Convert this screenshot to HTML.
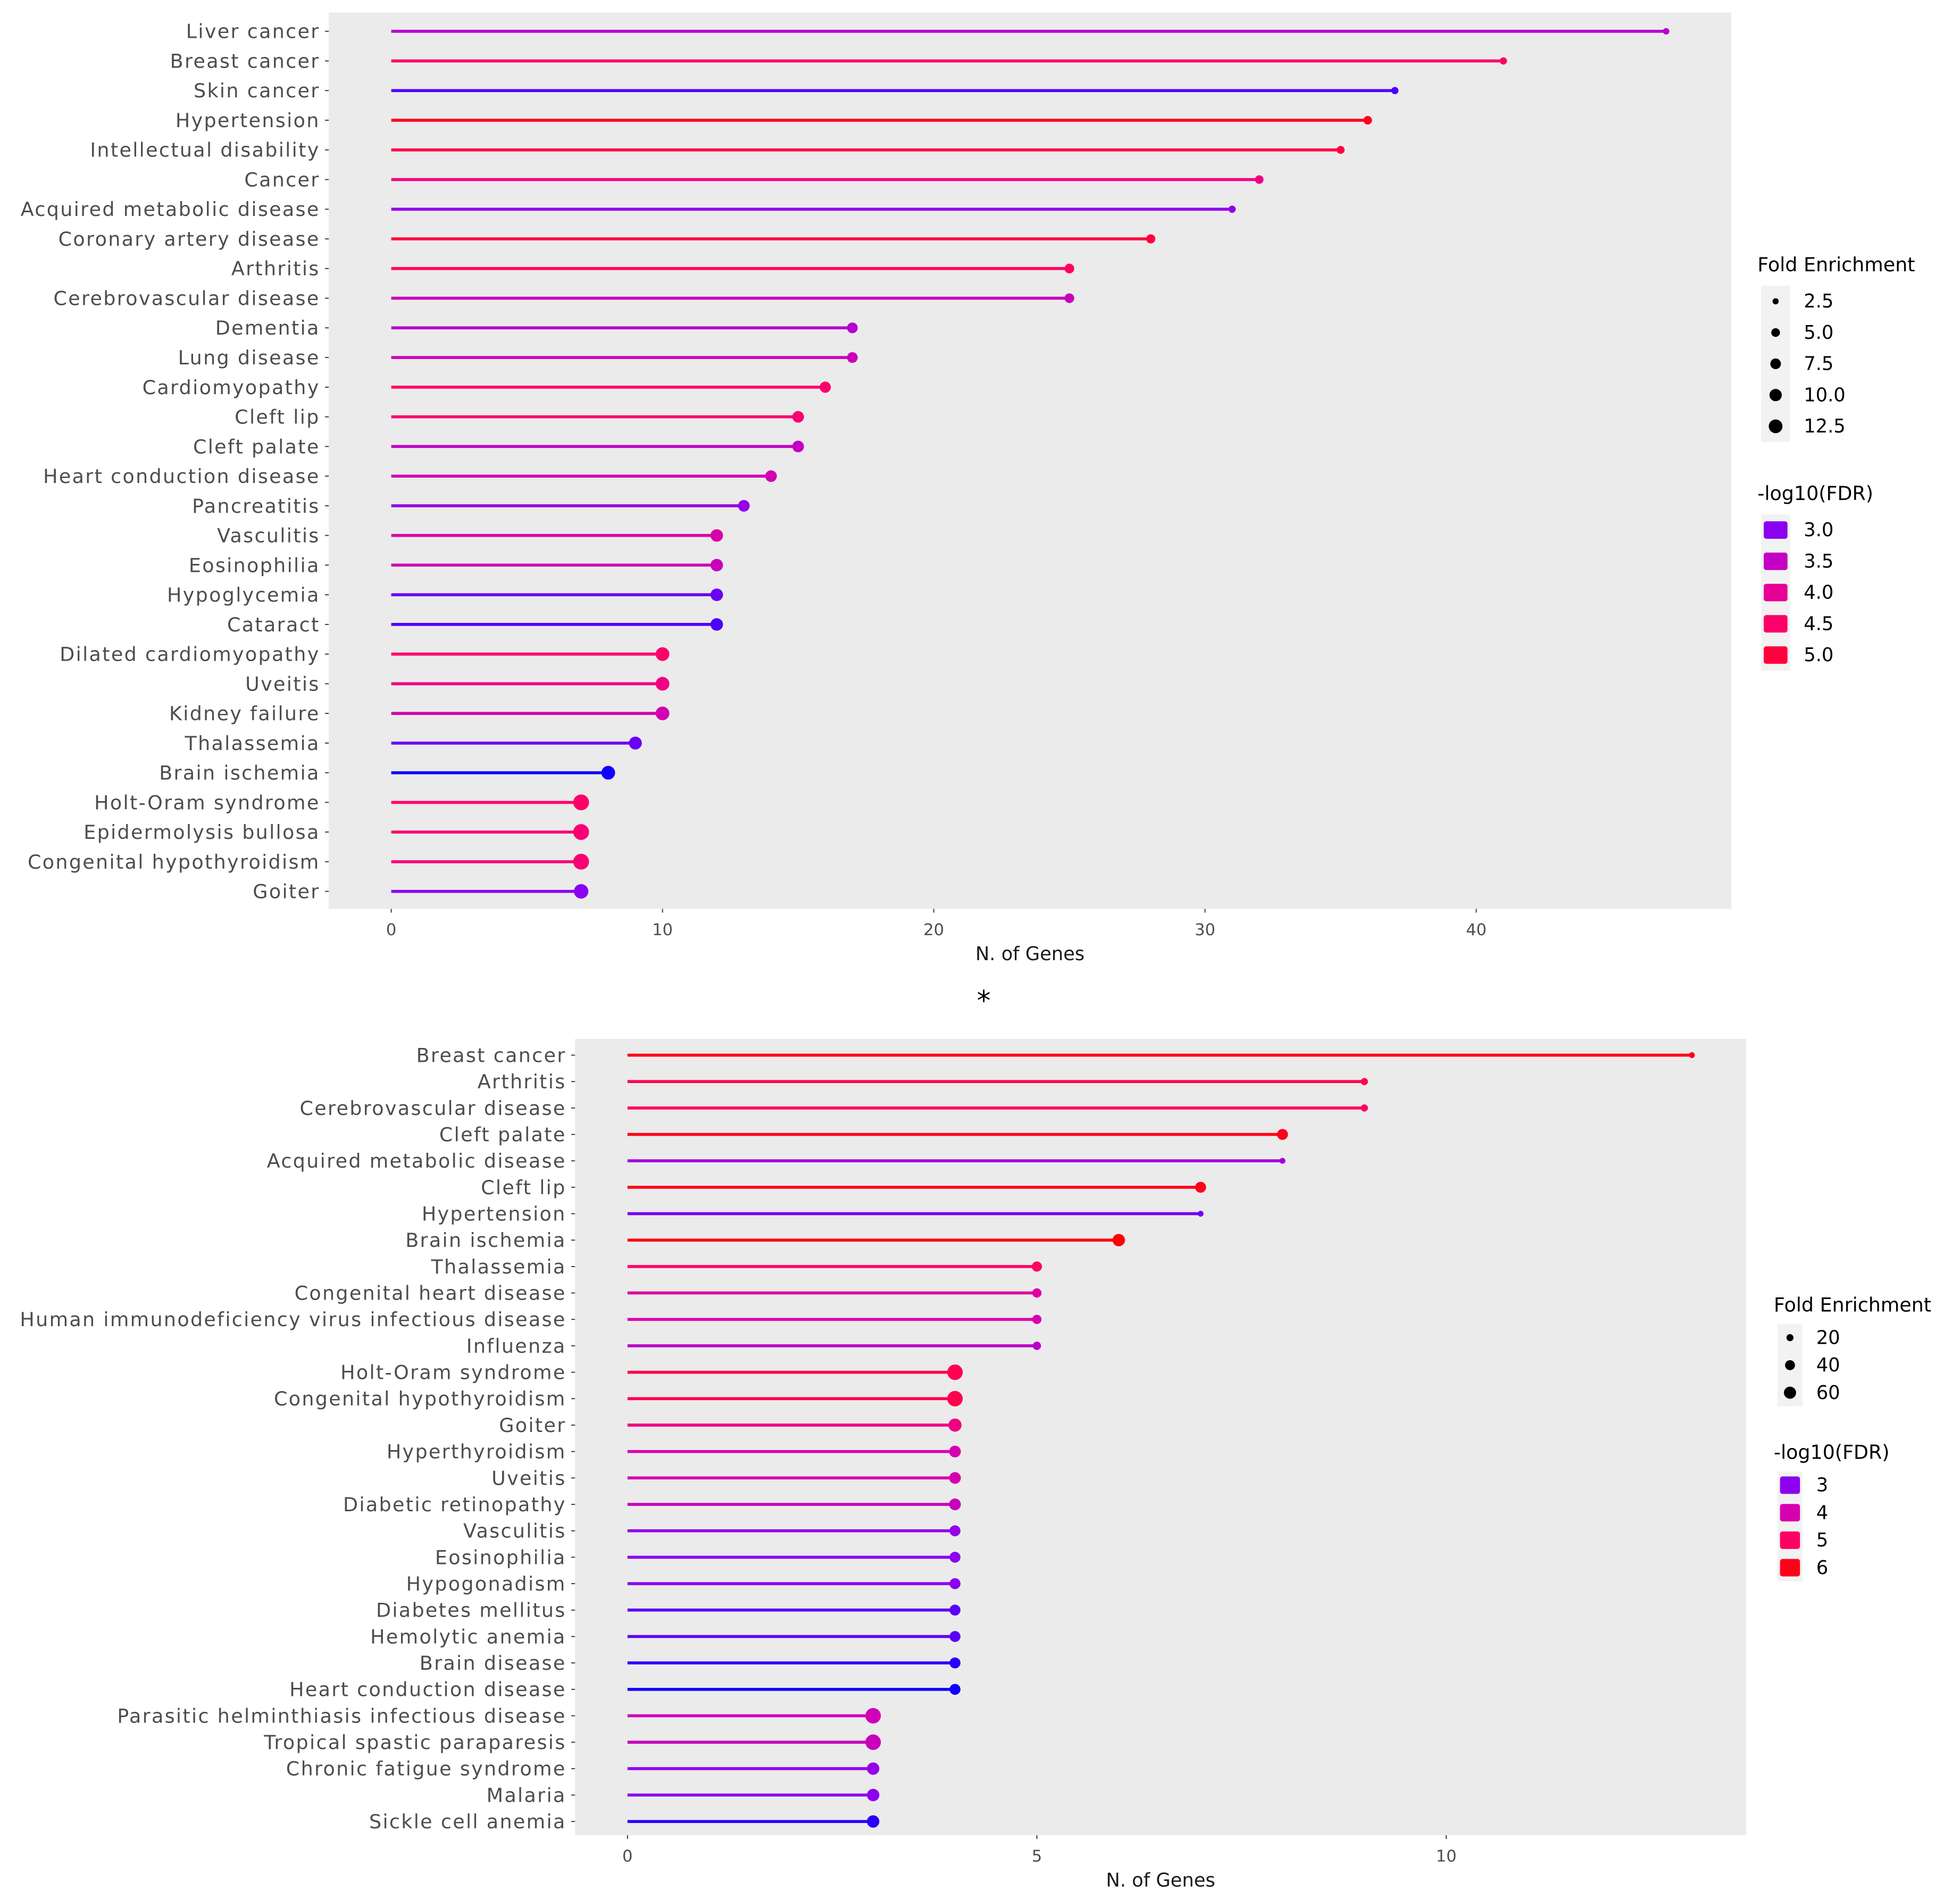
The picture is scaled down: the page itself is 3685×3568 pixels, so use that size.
<!DOCTYPE html>
<html><head><meta charset="utf-8"><style>
html,body{margin:0;padding:0;background:#fff}
svg{display:block}
text{font-family:"DejaVu Sans","Liberation Sans",sans-serif}
</style></head><body>
<svg id="chart" width="3685" height="3568" viewBox="0 0 1568 1518.2" xmlns="http://www.w3.org/2000/svg">
<rect width="1568" height="1518.2" fill="#fff"/>
<text x="787" y="808" font-size="22" text-anchor="middle" fill="#000">*</text>
</svg>
<script>
// ---- Top panel data ----
const topCategories = ["Liver cancer","Breast cancer","Skin cancer","Hypertension","Intellectual disability","Cancer","Acquired metabolic disease","Coronary artery disease","Arthritis","Cerebrovascular disease","Dementia","Lung disease","Cardiomyopathy","Cleft lip","Cleft palate","Heart conduction disease","Pancreatitis","Vasculitis","Eosinophilia","Hypoglycemia","Cataract","Dilated cardiomyopathy","Uveitis","Kidney failure","Thalassemia","Brain ischemia","Holt-Oram syndrome","Epidermolysis bullosa","Congenital hypothyroidism","Goiter"];
const topGenes = [47,41,37,36,35,32,31,28,25,25,17,17,16,15,15,14,13,12,12,12,12,10,10,10,9,8,7,7,7,7];
const topFDR = [3.4,4.5,2.8,5.2,4.9,4.2,3.1,5.0,4.6,3.6,3.4,3.6,4.5,4.4,3.5,3.7,3.1,3.8,3.6,2.9,2.8,4.5,4.2,3.7,2.9,2.6,4.5,4.4,4.4,3.0];
const topFE = [2,2.5,2.5,3.5,3,3.5,2.5,4,4.5,4.5,5.5,5.5,6,6.5,6.5,6.5,6.5,7.5,7.5,7.5,7.5,9,9,9,8,9,12,12,12,10];
const topXTicks = [0,10,20,30,40];
const topSizeLegend = [2.5,5.0,7.5,10.0,12.5];
const topColorLegend = [3.0,3.5,4.0,4.5,5.0];
// ---- Bottom panel data ----
const botCategories = ["Breast cancer","Arthritis","Cerebrovascular disease","Cleft palate","Acquired metabolic disease","Cleft lip","Hypertension","Brain ischemia","Thalassemia","Congenital heart disease","Human immunodeficiency virus infectious disease","Influenza","Holt-Oram syndrome","Congenital hypothyroidism","Goiter","Hyperthyroidism","Uveitis","Diabetic retinopathy","Vasculitis","Eosinophilia","Hypogonadism","Diabetes mellitus","Hemolytic anemia","Brain disease","Heart conduction disease","Parasitic helminthiasis infectious disease","Tropical spastic paraparesis","Chronic fatigue syndrome","Malaria","Sickle cell anemia"];
const botGenes = [13,9,9,8,8,7,7,6,5,5,5,5,4,4,4,4,4,4,4,4,4,4,4,4,4,3,3,3,3,3];
const botFDR = [6.0,5.3,5.0,6.0,3.3,6.0,2.9,6.2,5.0,4.2,4.0,3.6,5.3,5.3,4.6,4.0,4.0,3.8,3.1,3.0,3.0,2.8,2.8,2.6,2.5,3.9,3.8,3.1,3.0,2.6];
const botFE = [10,15,15,35,10,35,10,45,30,25,25,20,70,70,50,40,40,40,35,35,35,35,35,35,35,70,70,45,45,45];
const botXTicks = [0,5,10];
const botSizeLegend = [20,40,60];
const botColorLegend = [3,4,5,6];

const NS="http://www.w3.org/2000/svg";
const svg=document.getElementById('chart');
function mk(tag,attrs,parent){const e=document.createElementNS(NS,tag);for(const k in attrs)e.setAttribute(k,attrs[k]);(parent||svg).appendChild(e);return e;}
function hex(c){return 'rgb('+c.map(Math.round).join(',')+')';}
function colorFn(stops){return v=>{if(v<=stops[0][0])return hex(stops[0][1]);for(let i=1;i<stops.length;i++){if(v<=stops[i][0]){const t=(v-stops[i-1][0])/(stops[i][0]-stops[i-1][0]);return hex(stops[i-1][1].map((a,j)=>a+(stops[i][1][j]-a)*t));}}return hex(stops[stops.length-1][1]);};}
const topColor=colorFn([[2.6,[16,0,255]],[3.0,[138,0,240]],[3.5,[195,0,195]],[4.0,[232,0,150]],[4.5,[255,0,105]],[5.0,[255,0,60]],[5.3,[255,0,20]]]);
const botColor=colorFn([[2.5,[16,0,255]],[3.0,[140,0,240]],[4.0,[215,0,175]],[5.0,[255,0,100]],[6.0,[255,0,25]],[6.3,[255,0,0]]]);

function panel(o){
  const g=mk('g',{});  
  const bg=mk('rect',{x:o.x0,y:o.y0,width:o.x1-o.x0,height:o.y1-o.y0,fill:'#ebebeb'},g);
   
  const xs=v=>o.zx+v*o.px;
  const ys=i=>o.ry0+i*o.dy;
  o.ticks.forEach(t=>{
    mk('line',{x1:xs(t),x2:xs(t),y1:o.y1,y2:o.y1+3,stroke:'#333','stroke-width':0.8},g);
    const tl=mk('text',{x:xs(t),y:o.y1+21,'font-size':13,fill:'#4d4d4d','text-anchor':'middle'},g);
    tl.textContent=t;
     
  });
  const xt=mk('text',{x:(o.x0+o.x1)/2,y:o.y1+41,'font-size':15,fill:'#1a1a1a','text-anchor':'middle'},g);
  xt.textContent='N. of Genes';
   
  o.cats.forEach((c,i)=>{
    const y=ys(i);
    mk('line',{x1:o.x0-3,x2:o.x0,y1:y,y2:y,stroke:'#333','stroke-width':0.8},g);
    const lab=mk('text',{x:o.x0-7,y:y+5.5,'font-size':15.5,fill:'#4d4d4d','text-anchor':'end','letter-spacing':1.0},g);
    lab.textContent=c;
     
    const col=o.color(o.fdr[i]);
    const ln=mk('line',{x1:xs(0),x2:xs(o.vals[i]),y1:y,y2:y,stroke:col,'stroke-width':2.4},g);
     
    const pt=mk('circle',{cx:xs(o.vals[i]),cy:y,r:o.size(o.fe[i]),fill:col},g);
     
  });
  const t1=mk('text',{x:o.lx-3,y:o.ly1,'font-size':15.5,fill:'#000'},g);
  t1.textContent='Fold Enrichment';
   
  o.sizeLeg.forEach((v,i)=>{
    const y=o.ly1+o.off+i*o.lstep;
    mk('rect',{x:o.lx,y:y-o.lstep/2,width:o.lstep-2,height:o.lstep,fill:'#f2f2f2'},g);
    const d=mk('circle',{cx:o.lx+o.lstep/2-1,cy:y,r:o.size(v)*0.85,fill:'#000'},g);
     
    const tx=mk('text',{x:o.lx+o.lstep+9,y:y+5,'font-size':15,fill:'#000'},g);
    tx.textContent=o.sizeFmt(v);
     
  });
  const t2=mk('text',{x:o.lx-3,y:o.ly2,'font-size':15.5,fill:'#000'},g);
  t2.textContent='-log10(FDR)';
   
  o.colLeg.forEach((v,i)=>{
    const y=o.ly2+o.off+i*o.lstep;
    mk('rect',{x:o.lx,y:y-o.lstep/2,width:o.lstep-2,height:o.lstep,fill:'#f2f2f2'},g);
    const k=mk('rect',{x:o.lx+2,y:y-7,width:o.lstep-6,height:14,fill:o.color(v),rx:2},g);
     
    const tx=mk('text',{x:o.lx+o.lstep+9,y:y+5,'font-size':15,fill:'#000'},g);
    tx.textContent=o.colFmt(v);
     
  });
}
panel({name:'top-panel',x0:263,x1:1385,y0:10,y1:727,zx:313,px:21.7,ry0:25,dy:(713-25)/29,
  cats:topCategories,vals:topGenes,fdr:topFDR,fe:topFE,ticks:topXTicks,color:topColor,
  size:v=>6.6*Math.sqrt(v/13),lx:1409,ly1:217,ly2:400,lstep:25,off:24,
  sizeLeg:topSizeLegend,colLeg:topColorLegend,sizeFmt:v=>v.toFixed(1),colFmt:v=>v.toFixed(1)});
panel({name:'bottom-panel',x0:460,x1:1397,y0:831,y1:1468,zx:502,px:65.5,ry0:844,dy:(1457-844)/29,
  cats:botCategories,vals:botGenes,fdr:botFDR,fe:botFE,ticks:botXTicks,color:botColor,
  size:v=>6.2*Math.sqrt(v/70),lx:1422,ly1:1049,ly2:1167,lstep:22,off:21,
  sizeLeg:botSizeLegend,colLeg:botColorLegend,sizeFmt:v=>String(v),colFmt:v=>String(v)});
</script>
</body></html>
